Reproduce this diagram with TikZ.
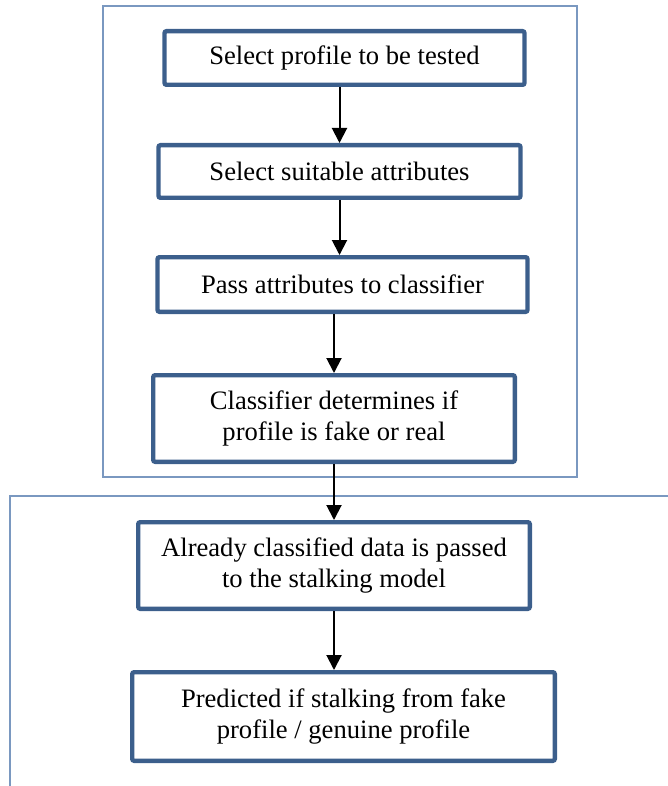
\documentclass[tikz,border=0pt]{standalone}
\usepackage{fontspec}
\setmainfont{Liberation Serif}
\usetikzlibrary{arrows.meta}
\definecolor{boxblue}{RGB}{60,95,140}
\definecolor{frameblue}{RGB}{122,152,192}

\begin{document}
\begin{tikzpicture}
[x=0.5pt,y=-0.5pt,>={Triangle[length=7.5pt,width=7.5pt]},
stepbox/.style={draw=boxblue,line width=2.2pt,rounded corners=1pt,fill=white,align=center,inner sep=0pt,font=\fontsize{13.3}{15.4}\selectfont},
frame/.style={draw=frameblue,line width=0.7pt},
arr/.style={->,line width=1pt},]

%Canvas
\useasboundingbox (0,0) rectangle (668,786);

%Outer frames
\draw[frame] (103,6) rectangle (577,477);
\draw[frame] (668,496) -- (10,496) -- (10,786);

%Steps
\node (select) at (344.5,58)[stepbox,minimum width=180pt,minimum height=26.8pt] {Select profile to be tested};
\node (attrib) at (339.5,171.5)[stepbox,minimum width=181pt,minimum height=26.3pt] {Select suitable attributes};
\node (pass) at (342.5,284.5)[stepbox,minimum width=185pt,minimum height=27.3pt] {Pass attributes to classifier};
\node (classify) at (334,418.5)[stepbox,minimum width=180.8pt,minimum height=43.3pt] {Classifier determines if\\profile is fake or real};
\node (stalk) at (334,565.5)[stepbox,minimum width=195.8pt,minimum height=43.3pt] {Already classified data is passed\\to the stalking model};
\node (predict) at (343.5,716.5)[stepbox,minimum width=211.3pt,minimum height=44.3pt] {Predicted if stalking from fake\\profile / genuine profile};

%Arrows
\draw[arr] (select.south -| attrib) -- (attrib);
\draw[arr] (attrib) -- (attrib |- pass.north);
\draw[arr] (pass.south -| classify) -- (classify);
\draw[arr] (classify) -- (stalk);
\draw[arr] (stalk) -- (stalk |- predict.north);

\end{tikzpicture}
\end{document}
